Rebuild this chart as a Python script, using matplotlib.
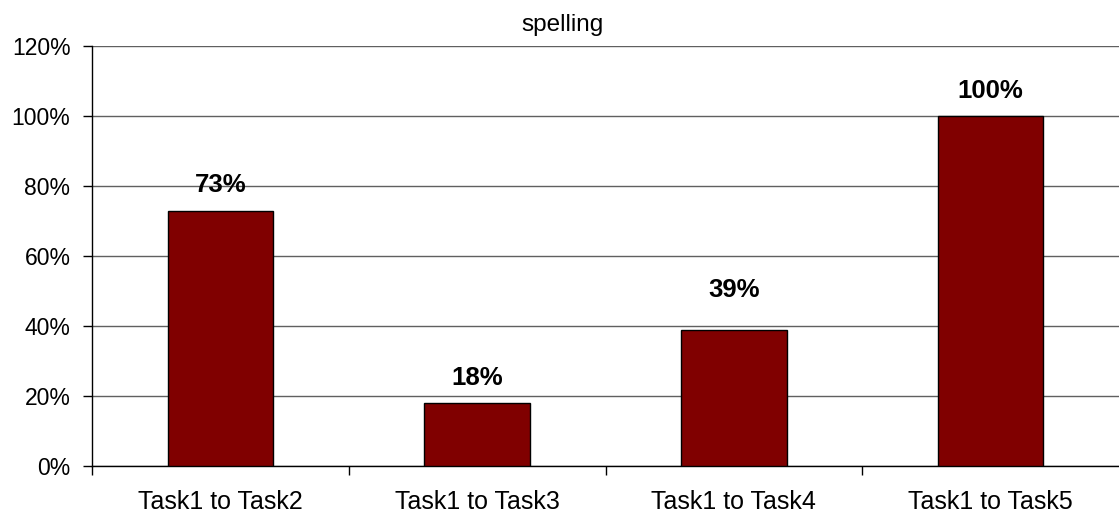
import numpy as np
import matplotlib.pyplot as plt
from matplotlib.ticker import FixedLocator

plt.rcParams['font.family'] = ['Liberation Sans', 'DejaVu Sans']

categories = ['Task1 to Task2', 'Task1 to Task3', 'Task1 to Task4', 'Task1 to Task5']
values = [73, 18, 39, 100]
yticks = [0, 20, 40, 60, 80, 100, 120]

# gap between bar top and its value label, in points
label_gap = [9.5, 9.5, 20, 9.5]

fig = plt.figure(figsize=(11.19, 5.17), dpi=100)
ax = fig.add_axes([92 / 1119, 51 / 517, 1027 / 1119, 420 / 517])

x = np.arange(len(categories))
bars = ax.bar(x, values, width=0.41, color='#800000', edgecolor='black', linewidth=1.0, zorder=3)

for b, v, g in zip(bars, values, label_gap):
    ax.annotate(f'{v}%', (b.get_x() + b.get_width() / 2, v), xytext=(0, g),
                textcoords='offset points', ha='center', va='bottom',
                fontsize=18.5, fontweight='bold')

ax.set_xlim(-0.5, len(categories) - 0.5)
ax.set_ylim(0, 120)
ax.set_yticks(yticks)
ax.set_yticklabels([f'{t}%' for t in yticks])
ax.yaxis.grid(True, color='#606060', linewidth=1.0, zorder=0)

ax.set_xticks(x)
ax.set_xticklabels(categories)
ax.xaxis.set_minor_locator(FixedLocator(np.arange(len(categories)) - 0.5))
ax.tick_params(axis='x', which='major', length=0, pad=17, labelsize=18)
ax.tick_params(axis='x', which='minor', length=6.5, width=1)
ax.tick_params(axis='y', length=6.5, width=1, labelsize=16.5, pad=9)

for side in ['top', 'right']:
    ax.spines[side].set_visible(False)
ax.spines['left'].set_linewidth(1.0)
ax.spines['bottom'].set_linewidth(1.0)

fig.text(563 / 1119, 1 - 25 / 517, 'spelling', ha='center', va='center', fontsize=17.5)

fig.savefig('out.png', dpi=100)
